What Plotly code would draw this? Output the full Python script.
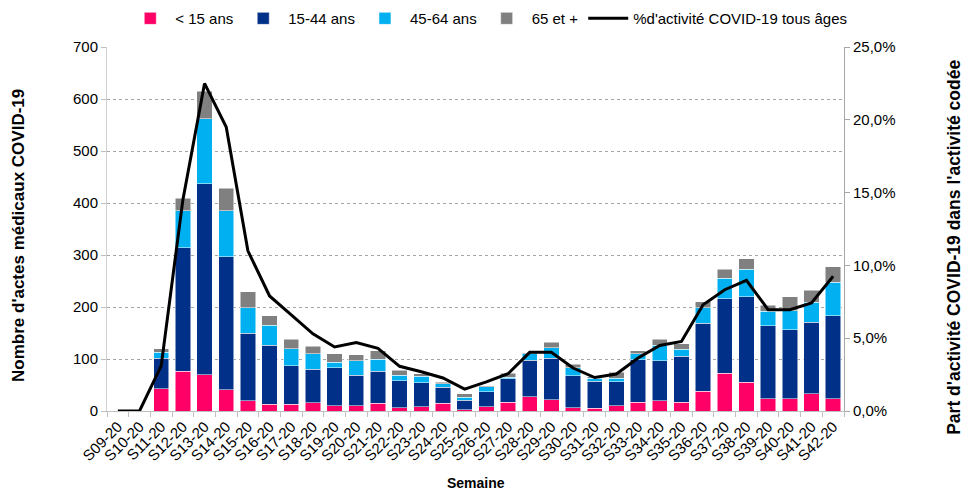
import plotly.graph_objects as go

weeks = [f"S{n:02d}-20" for n in range(9, 43)]

under15 = [0, 0, 43, 76, 70, 41, 20, 13, 13, 16, 10, 10, 15, 6, 8, 15, 2,
           8, 17, 27, 22, 6, 5, 10, 17, 20, 17, 38, 73, 55, 24, 24, 33, 24]
age15_44 = [0, 0, 58, 238, 367, 256, 130, 113, 74, 64, 73, 59, 61, 52, 46, 31, 19,
            29, 45, 71, 79, 62, 52, 46, 82, 77, 88, 131, 143, 165, 140, 132, 138, 159]
age45_64 = [0, 0, 12, 71, 125, 88, 49, 39, 33, 30, 11, 28, 24, 11, 13, 6, 5,
            10, 3, 12, 21, 15, 6, 7, 11, 29, 14, 30, 39, 53, 28, 37, 38, 65]
age65 = [0, 0, 7, 24, 53, 43, 30, 18, 18, 15, 16, 11, 16, 9, 5, 3, 7,
         2, 8, 2, 10, 7, 3, 12, 6, 12, 10, 11, 18, 20, 11, 27, 23, 29]
pct_activity = [0.0, 0.0, 3.1, 14.5, 22.5, 19.5, 11.0, 7.9, 6.6, 5.3, 4.4, 4.7, 4.3, 3.07, 2.7, 2.27, 1.5,
                2.0, 2.56, 4.03, 4.03, 2.95, 2.3, 2.54, 3.64, 4.5, 4.78, 7.3, 8.33, 8.97, 6.96, 6.96, 7.42, 9.25]

left_ticks = [0, 100, 200, 300, 400, 500, 600, 700]
right_ticks = [0, 5, 10, 15, 20, 25]
right_tick_labels = ["0,0%", "5,0%", "10,0%", "15,0%", "20,0%", "25,0%"]

FONT = "Liberation Sans, Arial, sans-serif"

fig = go.Figure()
series = [
    ("< 15 ans", under15, "#FF0066"),
    ("15-44 ans", age15_44, "#003087"),
    ("45-64 ans", age45_64, "#00B0F0"),
    ("65 et +", age65, "#808080"),
]
for name, vals, col in series:
    fig.add_trace(go.Bar(x=weeks, y=vals, name=name,
                         marker=dict(color=col, line=dict(color="white", width=0.5)), yaxis="y"))
fig.add_trace(go.Scatter(x=weeks, y=pct_activity, name="%d'activité COVID-19 tous âges", mode="lines",
                         line=dict(color="black", width=3), yaxis="y2"))

fig.update_layout(
    width=970, height=492,
    margin=dict(l=99, r=134, t=39, b=89, autoexpand=False),
    barmode="stack", bargap=0.29,
    plot_bgcolor="white", paper_bgcolor="white",
    font=dict(family=FONT, size=15, color="black"),
    legend=dict(orientation="h", x=0.518, xanchor="center", y=1.078, yanchor="middle",
                font=dict(size=15), traceorder="normal", itemwidth=40),
    xaxis=dict(type="category", tickangle=-45, tickson="boundaries", ticks="outside", ticklen=5,
               tickcolor="#BFBFBF", showline=True, linecolor="#BFBFBF", linewidth=1,
               showgrid=False, tickfont=dict(size=15), automargin=False),
    yaxis=dict(range=[0, 700], tickvals=left_ticks, showgrid=True, gridcolor="#A6A6A6", griddash="dot",
               showline=True, linecolor="#D0D0D0", ticks="outside", tickcolor="#BFBFBF", ticklen=5,
               tickfont=dict(size=15), zeroline=False, automargin=False),
    yaxis2=dict(range=[0, 25], tickvals=right_ticks, ticktext=right_tick_labels, overlaying="y", side="right",
                showgrid=False, showline=True, linecolor="#A6A6A6",
                ticks="outside", tickcolor="#A6A6A6", ticklen=5, tickfont=dict(size=15), zeroline=False,
                automargin=False),
    annotations=[
        dict(text="<b>Nombre d'actes médicaux COVID-19</b>", xref="paper", yref="paper",
             x=-0.1194, y=0.481, textangle=-90, showarrow=False, font=dict(size=17),
             xanchor="center", yanchor="middle"),
        dict(text="<b>Part d'activité COVID-19 dans l'activité codée</b>", xref="paper", yref="paper",
             x=1.149, y=0.4505, textangle=-90, showarrow=False, font=dict(size=17.5),
             xanchor="center", yanchor="middle"),
        dict(text="<b>Semaine</b>", xref="paper", yref="paper",
             x=0.5, y=-0.198, showarrow=False, font=dict(size=14),
             xanchor="center", yanchor="middle"),
    ],
)

fig.write_html("out.html")
